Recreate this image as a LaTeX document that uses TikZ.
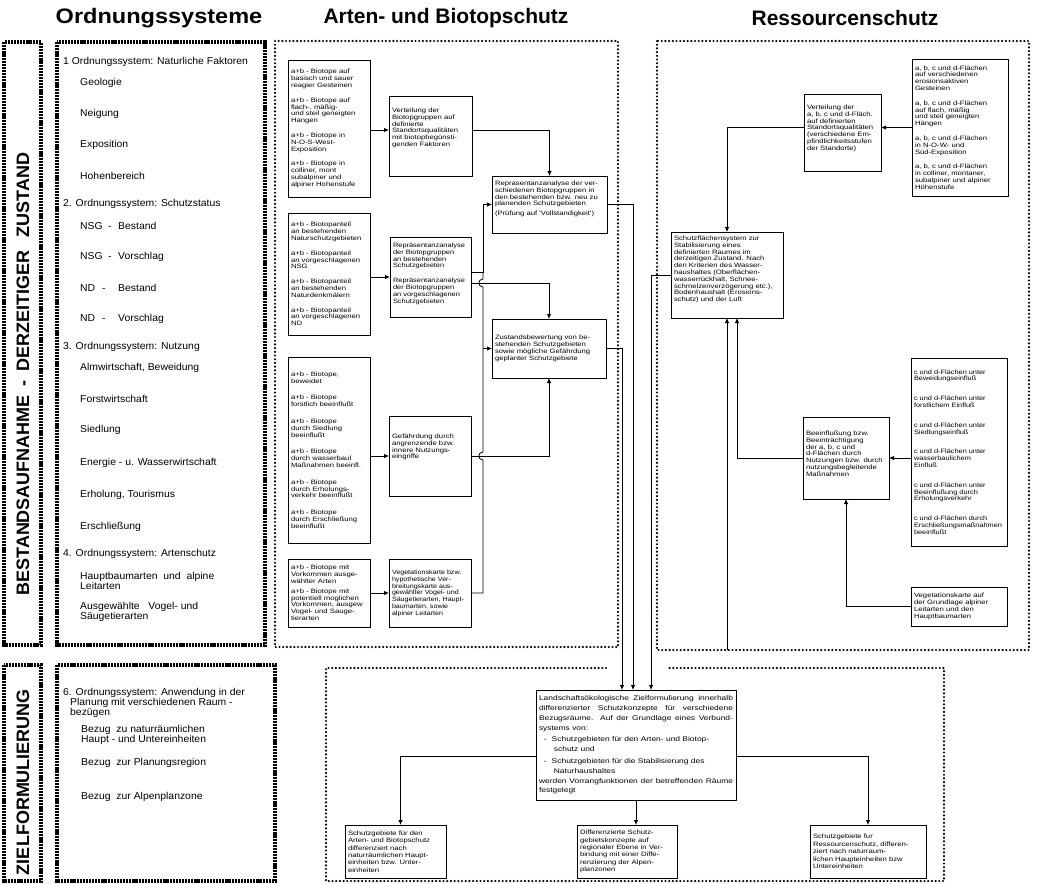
\documentclass[tikz,border=0pt]{standalone}
\usepackage{fontspec}
\setmainfont{Liberation Sans}
\newfontfamily\boxfont{Liberation Sans}
\newfontfamily\listfont[FakeStretch=1.04]{Liberation Sans}
\usetikzlibrary{arrows.meta,calc}
\def\curscale{1.22}
\tikzset{
  hsc/.code={\def\curscale{#1}},
  box/.style={draw,line width=0.8pt,inner xsep=3pt,inner ysep=4pt,outer sep=0pt,font=\boxfont\fontsize{6.3}{6.8}\selectfont},
  lfont/.style={font=\boxfont\fontsize{6.8}{9.8}\selectfont},
  bfont/.style={font=\boxfont\fontsize{6.3}{7.4}\selectfont},
  arr/.style={line width=0.8pt,-{Latex[length=5pt,width=4.5pt]}},
  conn/.style={line width=0.8pt},
  thickframe/.style={line width=3.8pt,dash pattern=on 2.2pt off 0.9pt},
  dotframe/.style={line width=2.4pt,line cap=round,dash pattern=on 0pt off 3.7pt},
  title/.style={inner sep=0pt,font=\bfseries\fontsize{21}{21}\selectfont},
  vlabel/.style={inner sep=0pt,rotate=90,font=\bfseries\fontsize{18}{18}\selectfont},
  item/.style={anchor=west,inner sep=0pt,align=left,font=\listfont\fontsize{10}{10}\selectfont},
}
\newcommand{\tb}[8][]{%
  \node[box,#1,anchor=north west,minimum width=#5pt,minimum height=#6pt] (#2) at (#3,#4)
  {\pgfmathsetlengthmacro\mpw{(#5-6)/\curscale}%
   \scalebox{\curscale}[1]{\begin{minipage}[t][\dimexpr #6pt-8pt\relax][#7]{\mpw}\raggedright #8\end{minipage}}};}
\begin{document}
\begin{tikzpicture}[x=1pt,y=-1pt]
\useasboundingbox (0,0) rectangle (1037,884);
% titles
\node[title] (T1) at (159,18) {\scalebox{1.12}[1]{Ordnungssysteme}};
\node[title] (T2) at (446,18) {Arten- und Biotopschutz};
\node[title] (T3) at (845,18) {Ressourcenschutz};
% left frames
\draw[thickframe] (4,42) rectangle (41,645);
\draw[thickframe] (57,42) rectangle (265,645);
\draw[thickframe] (4,665) rectangle (41,881);
\draw[thickframe] (57,665) rectangle (275,881);
\node[vlabel] (lab1) at (23,374) {BESTANDSAUFNAHME\hspace{9pt}-\hspace{9pt}DERZEITIGER\hspace{13pt}ZUSTAND};
\node[vlabel] (lab2) at (23,782) {ZIELFORMULIERUNG};
% dotted frames
\draw[dotframe] (275,41) rectangle (618,647);
\draw[dotframe] (657,41) rectangle (1029,650);
\draw[dotframe] (606,668) -- (326,668) -- (326,881) -- (944,881) -- (944,668) -- (669,668);
% list 1
\node[item] (o1) at (63,62) {1 Ordnungssystem: Naturliche Faktoren};
\node[item] (o1a) at (80,83) {Geologie};
\node[item] (o1b) at (80,114) {Neigung};
\node[item] (o1c) at (80,145) {Exposition};
\node[item] (o1d) at (80,176) {Hohenbereich};
\node[item] (o2) at (63,204) {2. Ordnungssystem: Schutzstatus};
\node[item] (o2a) at (80,226) {\makebox[28pt][l]{NSG}\makebox[10pt][l]{-}Bestand};
\node[item] (o2b) at (80,257) {\makebox[28pt][l]{NSG}\makebox[10pt][l]{-}Vorschlag};
\node[item] (o2c) at (80,288) {\makebox[22pt][l]{ND}\makebox[16pt][l]{-}Bestand};
\node[item] (o2d) at (80,319) {\makebox[22pt][l]{ND}\makebox[16pt][l]{-}Vorschlag};
\node[item] (o3) at (63,347) {3. Ordnungssystem: Nutzung};
\node[item] (o3a) at (80,368) {Almwirtschaft, Beweidung};
\node[item] (o3b) at (80,399) {Forstwirtschaft};
\node[item] (o3c) at (80,430) {Siedlung};
\node[item] (o3d) at (80,463) {Energie - u. Wasserwirtschaft};
\node[item] (o3e) at (80,495) {Erholung, Tourismus};
\node[item] (o3f) at (80,527) {Erschließung};
\node[item] (o4) at (63,554) {4. Ordnungssystem: Artenschutz};
\node[item] (o4a) at (80,581) {Hauptbaumarten\ \ und\ \ alpine\\Leitarten};
\node[item] (o4b) at (80,612) {Ausgewählte\ \ \ Vogel- und\\Säugetierarten};
% list 2
\node[item] (o6) at (63,703) {6. Ordnungssystem: Anwendung in der\\\hspace*{7pt}Planung mit verschiedenen Raum -\\\hspace*{7pt}bezügen};
\node[item] (o6a) at (81,735) {Bezug\ \ zu naturräumlichen\\Haupt - und Untereinheiten};
\node[item] (o6b) at (81,763) {Bezug\ \ zur Planungsregion};
\node[item] (o6c) at (81,797) {Bezug\ \ zur Alpenplanzone};
% middle boxes
\tb{A1}{288}{60}{82}{137}{c}{a+b - Biotope auf\\basisch und sauer\\reagier Gesteinen\\[8pt]a+b - Biotope auf\\flach-, mäßig-\\und steil geneigten\\Hangen\\[8pt]a+b - Biotope in\\N-O-S-West-\\Exposition\\[8pt]a+b - Biotope in\\colliner, mont\\subalpiner und\\alpiner Hohenstufe}
\tb{A2}{288}{213}{82}{122}{c}{a+b - Biotopanteil\\an bestehenden\\Naturschutzgebieten\\[8pt]a+b - Biotopanteil\\an vorgeschlagenen\\NSG\\[8pt]a+b - Biotopanteil\\an bestehenden\\Naturdenkmälern\\[8pt]a+b - Biotopanteil\\an vorgeschlagenen\\ND}
\tb{A3}{288}{357}{82}{186}{c}{a+b - Biotope,\\beweidet\\[10pt]a+b - Biotope\\forstlich beeinflußt\\[10pt]a+b - Biotope\\durch Siedlung\\beeinflußt\\[10pt]a+b - Biotope\\durch wasserbaul\\Maßnahmen beeinfl.\\[10pt]a+b - Biotope\\durch Erholungs-\\verkehr beeinflußt\\[10pt]a+b - Biotope\\durch Erschließung\\beeinflußt}
\tb{A4}{288}{559}{82}{68}{c}{a+b - Biotope mit\\Vorkommen ausge-\\wählter Arten\\[3pt]a+b - Biotope mit\\potentiell moglichen\\Vorkommen, ausgew\\Vogel- und Sauge-\\tierarten}
\tb{V}{389}{96}{83}{80}{t}{\vspace*{8pt}Verteilung der\\Biotopgruppen auf\\definierte\\Standortsqualitäten\\mit biotopbegünsti-\\genden Faktoren}
\tb[hsc=1.18]{Rp}{390}{237}{81}{80}{t}{\vspace*{2pt}Repräsentanzanalyse\\der Biotopgruppen\\an bestehenden\\Schutzgebieten\\[8pt]Repräsentanzanalyse\\der Biotopgruppen\\an vorgeschlagenen\\Schutzgebieten}
\tb{G}{389}{416}{82}{80}{t}{\vspace*{14pt}Gefährdung durch\\angrenzende bzw.\\innere Nutzungs-\\eingriffe}
\tb[hsc=1.13]{Vg}{389}{559}{82}{68}{t}{\vspace*{7pt}Vegetationskarte bzw.\\hypothetische Ver-\\breitungskarte aus-\\gewählter Vogel- und\\Säugetierarten, Haupt-\\baumarten, sowie\\alpiner Leitarten}
\tb{R}{492}{176}{115}{57}{t}{\vspace*{1pt}Reprasentanzanalyse der ver-\\schiedenen Biotopgruppen in\\den bestehenden bzw. neu zu\\planenden Schutzgebieten\\[3pt](Prüfung auf 'Vollstandigkeit')}
\tb{Z}{492}{319}{114}{59}{c}{Zustandsbewertung von be-\\stehenden Schutzgebieten\\sowie mögliche Gefährdung\\geplanter Schutzgebiete}
% right boxes
\tb{RL1}{912}{59}{96}{137}{c}{a, b, c und d-Flächen\\auf verschiedenen\\erosionsaktiven\\Gesteinen\\[8pt]a, b, c und d-Flächen\\auf flach, mäßig\\und steil geneigten\\Hängen\\[8pt]a, b, c und d-Flächen\\in N-O-W- und\\Süd-Exposition\\[8pt]a, b, c und d-Flächen\\in colliner, montaner,\\subalpiner und alpiner\\Höhenstufe}
\tb{VR}{804}{94}{77}{77}{t}{\vspace*{7pt}Verteilung der\\a, b, c und d-Fläch.\\auf definierten\\Standortsqualitäten\\(verschiedene Em-\\pfindlichkeitsstufen\\der Standorte)}
\tb{S}{671}{232}{112}{86}{t}{Schutzflächensystem zur\\Stabilisierung eines\\definierten Raumes im\\derzeitigen Zustand. Nach\\den Kriterien des Wasser-\\haushaltes (Oberflächen-\\wasserrückhalt, Schnee-\\schmelzenverzögerung etc.),\\Bodenhaushalt (Erosions-\\schutz) und der Luft}
\tb[hsc=1.17]{RL2}{911}{358}{96}{188}{c}{c und d-Flächen unter\\Beweidungseinfluß\\[13pt]c und d-Flächen unter\\forstlichem Einfluß\\[13pt]c und d-Flächen unter\\Siedlungseinfluß\\[13pt]c und d-Flächen unter\\wasserbaulichem\\Einfluß\\[13pt]c und d-Flächen unter\\Beeinflußung durch\\Erholungsverkehr\\[13pt]c und d-Flächen durch\\Erschließungsmaßnahmen\\beeinflußt}
\tb{B}{803}{417}{86}{82}{t}{\vspace*{10pt}Beeinflußung bzw.\\Beeinträchtigung\\der a, b, c und\\d-Flächen durch\\Nutzungen bzw. durch\\nutzungsbegleitende\\Maßnahmen}
\tb{RL3}{911}{587}{96}{39}{c}{Vegetationskarte auf\\der Grundlage alpiner\\Leitarten und den\\Hauptbaumarten}
% bottom boxes
\tb[lfont,hsc=1.24]{L}{536}{690}{200}{110}{c}{\makebox[\linewidth][s]{Landschaftsökologische Zielformulierung innerhalb}\\\makebox[\linewidth][s]{differenzierter Schutzkonzepte für verschiedene}\\\makebox[\linewidth][s]{Bezugsräume. Auf der Grundlage eines Verbund-}\\systems von:\\[2pt]\hspace*{4pt}-\hspace{4pt}Schutzgebieten für den Arten- und Biotop-\\\hspace*{12pt}schutz und\\[2pt]\hspace*{4pt}-\hspace{4pt}Schutzgebieten für die Stabilisierung des\\\hspace*{12pt}Naturhaushaltes\\\makebox[\linewidth][s]{werden Vorrangfunktionen der betreffenden Räume}\\festgelegt}
\tb[bfont]{BL1}{345}{825}{101}{53}{c}{Schutzgebiete für den\\Arten- und Biotopschutz\\differenziert nach\\naturräumlichen Haupt-\\einheiten bzw. Unter-\\einheiten}
\tb[bfont]{BL2}{577}{825}{100}{53}{c}{Differenzierte Schutz-\\gebietskonzepte auf\\regionaler Ebene in Ver-\\bindung mit einer Diffe-\\renzierung der Alpen-\\planzonen}
\tb[bfont]{BL3}{810}{825}{116}{53}{c}{Schutzgebiete fur\\Ressourcenschutz, differen-\\ziert nach naturraum-\\lichen Haupteinheiten bzw\\Untereinheiten}
% ---------- connectors: middle
\coordinate (vin) at ([yshift=6pt]V.west);
\coordinate (vout) at ([yshift=6pt]V.east);
\draw[arr] (A1.east |- vin) -- (vin);
\draw[arr] (vout) -| (R.north);
\draw[arr] (A2.east |- Rp.west) -- (Rp.west);
\draw[arr] (A3.east |- G.west) -- (G.west);
\draw[arr] (A4.east |- Vg.west) -- (Vg.west);
\coordinate (r2a) at ([yshift=5pt]Rp.east);
\coordinate (r2b) at ([yshift=-6pt]Rp.east);
\coordinate (bus) at ([xshift=12pt]Rp.east);
\draw[arr] (r2a) -- (bus |- r2a) -- (bus |- R.west) -- (R.west);
\draw[arr] (r2b) -| (Z.north);
\draw[arr] (G.east) -| (Z.south);
\draw[conn] (Vg.east) -- (bus |- Vg.east) -- ($(bus |- G.east)+(0,4)$) .. controls +(-5.5,0) and +(-5.5,0) .. ($(bus |- G.east)+(0,-4)$) -- ($(bus |- r2b)+(0,4)$) .. controls +(-5.5,0) and +(-5.5,0) .. ($(bus |- r2b)+(0,-4)$) -- (bus |- r2a);
\draw[arr] (bus |- Z.west) -- (Z.west);
% to bottom box
\coordinate (aR) at ([xshift=-3pt]L.north);
\coordinate (aZ) at ([xshift=-14pt]L.north);
\coordinate (aS) at ([xshift=15pt]L.north);
\draw[arr] (R.east) -| (aR);
\draw[arr] (Z.east) -| (aZ);
\draw[arr] (S.west) -| (aS);
% right
\draw[arr] (RL1.west) -- (RL1.west -| VR.east);
\draw[arr] (VR.west |- RL1.west) -| (S.north);
\draw[arr] (RL2.west |- B.east) -- (B.east);
\coordinate (sin2) at ([xshift=10pt]S.south);
\draw[arr] (B.west) -| (sin2);
\coordinate (rfb) at (727,650);
\draw[arr] (S.south |- rfb) -- (S.south);
\draw[arr] (RL3.west) -| (B.south);
% bottom
\coordinate (lw) at ([yshift=-11pt]L.west);
\coordinate (le) at ([yshift=-11pt]L.east);
\draw[arr] (lw) -| ([xshift=5pt]BL1.north);
\draw[arr] (le) -| (BL3.north);
\draw[arr] (L.south) -- (L.south |- BL2.north);
\end{tikzpicture}
\end{document}
